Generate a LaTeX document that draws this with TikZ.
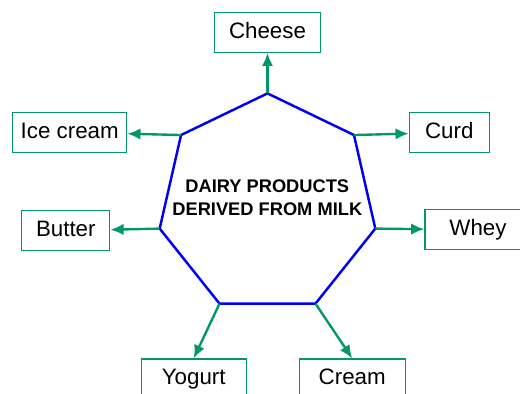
\documentclass[tikz,border=0pt]{standalone}
\usepackage{fontspec}
\setmainfont{Liberation Sans}
\usetikzlibrary{arrows.meta, calc}
\definecolor{prodgreen}{RGB}{0,153,102}
\definecolor{hepblue}{RGB}{0,0,245}
\newcommand{\boxfont}{\fontsize{12.7}{15}\selectfont}
\newcommand{\hubfont}{\fontsize{10.4}{12.9}\selectfont\bfseries}

\tikzset{
	product/.style={draw=prodgreen, line width=0.75pt, minimum height=0.8cm, inner sep=0pt,
		text height=9.1pt, text depth=2.4pt, font=\boxfont},
	feed/.style={draw=prodgreen, line width=1.35pt, -{Latex[length=7.5pt,width=6.5pt]}},
}

\begin{document}
\begin{tikzpicture}[x=0.02cm, y=0.02cm]
	\clip (0,0) rectangle (520,394);

	\coordinate (c) at (267.5,190);
	\foreach \i in {1,...,7}
		\coordinate (h\i) at ($(c)+({90-(\i-1)*360/7}:110.6)$);
	\draw[hepblue, line width=1.4pt, line join=miter]
		(h1) -- (h2) -- (h3) -- (h4) -- (h5) -- (h6) -- (h7) -- cycle;

	\node[align=center, font=\hubfont] (hub) at (267.3,196) {DAIRY PRODUCTS\\DERIVED FROM MILK};

	\node[product, minimum width=2.12cm] (cheese) at (267.5,361.7) {Cheese};
	\node[product, minimum width=2.28cm] (icecream) at (69.7,261.7) {Ice cream};
	\node[product, minimum width=1.6cm] (curd) at (449.3,261.5) {Curd};
	\node[product, minimum width=1.76cm] (butter) at (65.8,163.2) {Butter};
	\node[product, minimum width=2.12cm] (whey) at (478,164.8) {Whey};
	\node[product, minimum width=2.1cm] (yogurt) at (193.7,15) {Yogurt};
	\node[product, minimum width=2.12cm] (cream) at (352.2,15) {Cream};

	\draw[feed] (h1) -- (cheese);
	\draw[feed] (h2) -- (curd);
	\draw[feed] (h3) -- (whey.west);
	\draw[feed] (h4) -- (cream.north);
	\draw[feed] (h5) -- (yogurt.north);
	\draw[feed] (h6) -- (butter);
	\draw[feed] (h7) -- (icecream);
\end{tikzpicture}
\end{document}
